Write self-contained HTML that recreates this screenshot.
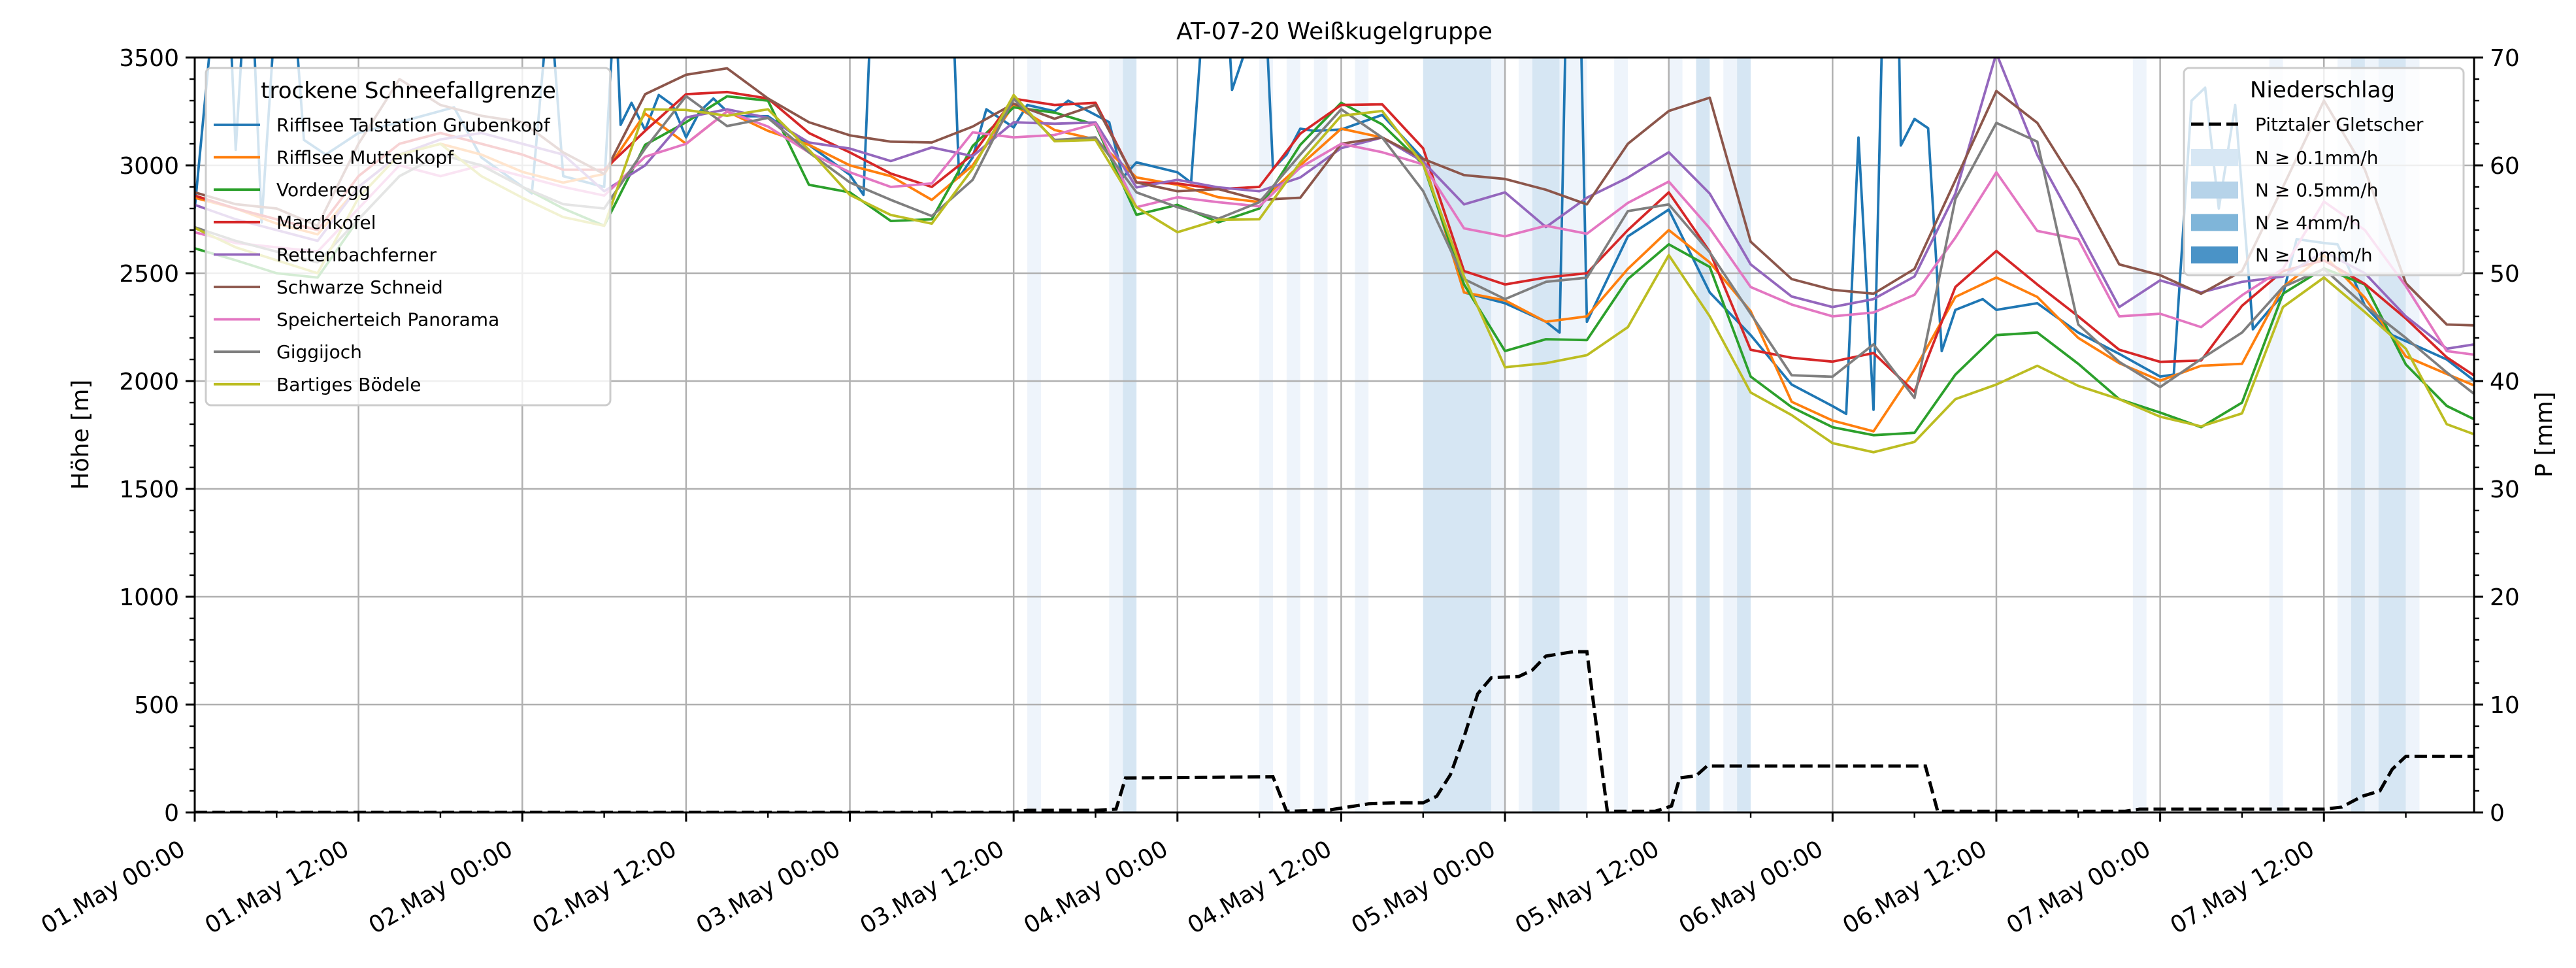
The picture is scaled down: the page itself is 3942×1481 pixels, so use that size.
<!DOCTYPE html>
<html><head><meta charset="utf-8"><style>
html,body{margin:0;padding:0;background:#fff;}
svg{display:block;font-family:"DejaVu Sans","Liberation Sans",sans-serif;}
</style></head><body>
<svg id="chart" xmlns="http://www.w3.org/2000/svg" width="3942" height="1481" viewBox="0 0 3942 1481">
<defs><clipPath id="plotclip"><rect x="298" y="88" width="3488" height="1155"/></clipPath></defs>
<rect x="0" y="0" width="3942" height="1481" fill="#fff"/>
<g id="bands" clip-path="url(#plotclip)"></g>
<g id="grid"></g>
<g id="series" clip-path="url(#plotclip)"></g>
<g id="axes"></g>
<g id="legends"></g>
<text x="2042" y="60" text-anchor="middle" font-size="36">AT-07-20 Weißkugelgruppe</text>
<text x="0" y="0" transform="translate(135,665) rotate(-90)" text-anchor="middle" font-size="36">Höhe [m]</text>
<text x="0" y="0" transform="translate(3905,665) rotate(-90)" text-anchor="middle" font-size="36">P [mm]</text>
</svg>
<script>
const hours = [0,3,6,9,12,15,18,21,24,27,30,33,36,39,42,45,48,51,54,57,60,63,66,69,72,75,78,81,84,87,90,93,96,99,102,105,108,111,114,117,120,123,126,129,132,135,138,141,144,147,150,153,156,159,162,165,168];
const seriesNames = ["Rifflsee Talstation Grubenkopf","Rifflsee Muttenkopf","Vorderegg","Marchkofel","Rettenbachferner","Schwarze Schneid","Speicherteich Panorama","Giggijoch","Bartiges Bödele"];
const blueHours = [0,1.5,2.5,3,3.7,4.2,4.9,6,7.2,8,
9.6,12,15,19,21,24.7,26,27,30,30.8,
31.2,32,33,34,35,36,37,38,39,40,
42,45,48,49,49.6,55.5,56,57,58,60,
61,63,64,66,67,68,69,72,73,74,
75.6,76,78.4,79,80,81,82,84,87,90,
93,96,99,100,100.5,101.5,102,105,108,111,
114,117,120,121,121.9,123,123.7,124.8,125,126,
127,128,129,131,132,135,138,141,144,145,
146.3,147.3,148.3,149.5,150.8,152,153,154,156,157,
158,159,161,163,165,167];
const blueValues = [2800,3800,3800,3072,3800,3800,2736,3800,3800,3118,
3050,3150,3200,3269,3037,2870,3800,2950,2900,3800,
3188,3290,3164,3326,3280,3130,3250,3310,3250,3228,
3228,3095,2956,2863,3800,3800,2944,3037,3260,3176,
3280,3251,3300,3234,3200,2944,3014,2968,2920,3800,
3800,3350,3800,2985,3050,3170,3160,3166,3234,3030,
2411,2361,2275,2225,3800,3800,2275,2671,2795,2411,
2213,1984,1884,1848,3129,1867,3800,3800,3092,3215,
3172,2139,2330,2380,2330,2361,2225,2126,2021,2030,
3300,3360,2800,3280,2240,2330,2400,2658,2640,2634,
2500,2349,2213,2157,2100,2002];
const orangeValues = [2850,2800,2730,2680,2900,3050,3100,3050,2970,2920,2960,3240,3100,3250,3160,3095,3000,2950,2840,3000,3280,3164,3120,2944,2910,2852,2830,3000,3170,3129,3030,2411,2374,2275,2300,2520,2700,2550,2324,1904,1817,1767,2052,2390,2480,2390,2200,2083,2002,2071,2080,2436,2584,2386,2114,2033,1953];
const greenValues = [2615,2560,2500,2480,2750,2950,3050,3000,2900,2800,2720,3095,3200,3320,3300,2910,2875,2742,2750,3090,3269,3245,3188,2771,2817,2736,2800,3095,3290,3190,3005,2448,2139,2194,2190,2473,2634,2529,2021,1879,1786,1749,1760,2030,2213,2225,2080,1916,1854,1786,1900,2405,2522,2448,2077,1885,1792];
const redValues = [2860,2800,2750,2700,2950,3100,3150,3100,3050,2980,2980,3160,3330,3340,3310,3150,3060,2962,2900,3050,3309,3280,3290,2921,2916,2890,2900,3147,3280,3283,3079,2510,2448,2480,2500,2700,2875,2600,2145,2108,2090,2130,1950,2436,2603,2448,2300,2145,2089,2095,2349,2510,2560,2450,2290,2110,1984];
const purpleValues = [2817,2750,2700,2650,2900,3050,3120,3150,3100,3050,2880,3000,3222,3260,3220,3106,3078,3020,3083,3043,3200,3193,3199,2898,2933,2898,2880,2944,3080,3129,3017,2819,2875,2714,2850,2943,3061,2869,2541,2392,2343,2380,2485,2869,3520,3048,2700,2343,2467,2411,2460,2485,2600,2500,2300,2150,2180];
const brownValues = [2875,2820,2800,2720,3100,3400,3280,3230,3200,3060,2960,3330,3420,3450,3310,3200,3139,3110,3106,3180,3286,3216,3280,2921,2880,2890,2840,2850,3100,3129,3030,2955,2937,2887,2819,3100,3252,3314,2646,2473,2423,2405,2520,2931,3345,3197,2894,2541,2491,2405,2510,2900,3300,2980,2454,2262,2256];
const pinkValues = [2690,2640,2620,2600,2800,3000,2950,3000,2950,2900,2860,3040,3100,3250,3180,3060,2968,2900,2916,3153,3130,3141,3193,2806,2852,2829,2810,2990,3100,3061,3005,2708,2671,2720,2683,2826,2925,2708,2436,2355,2300,2318,2400,2665,2968,2696,2658,2300,2312,2250,2398,2520,2832,2700,2440,2139,2114];
const greyValues = [2713,2650,2600,2550,2750,2950,3050,3000,2900,2820,2800,3078,3321,3182,3220,3060,2921,2840,2765,2933,3309,3118,3130,2875,2806,2753,2829,3050,3260,3129,2881,2473,2380,2460,2479,2788,2819,2597,2312,2027,2020,2170,1922,2844,3197,3110,2262,2089,1972,2102,2225,2436,2520,2349,2200,2040,1891];
const oliveValues = [2710,2620,2560,2500,2850,3050,3100,2950,2850,2760,2720,3260,3257,3230,3260,3072,2863,2770,2730,2985,3326,3112,3118,2806,2690,2748,2750,3014,3230,3252,3005,2485,2064,2083,2120,2250,2584,2300,1947,1842,1712,1670,1718,1916,1984,2071,1978,1916,1835,1790,1850,2343,2480,2320,2150,1800,1730];
const precipHours = [0,60,61,66,67.5,68.2,79,80,83,84,86,88,90,91,92,93,94,95,97,98,99,101,102,103.5,107,108.2,108.8,110,110.8,126.8,127.7,141.4,142.5,151,156,157.3,158.8,160.1,161,162,167];
const precipValues = [0,0,0.2,0.2,0.3,3.2,3.3,0.1,0.2,0.4,0.8,0.9,0.9,1.5,3.5,7,11,12.5,12.6,13.2,14.5,14.9,14.9,0.1,0.1,0.6,3.2,3.4,4.3,4.3,0.1,0.1,0.3,0.3,0.3,0.5,1.5,2.0,4,5.2,5.2];
const bandStart = [61,67,68,78,80,82,85,90,95,97,98,100,104,108,110,112,113,142,152,157,158,159,160,162];
const bandEnd   = [62,68,69,79,81,83,86,95,96,98,100,102,105,109,111,113,114,143,153,158,159,160,162,163];
const bandLevel = [1,1,2,1,1,1,1,2,1,1,2,1,1,1,2,1,2,1,1,1,2,1,2,1];
const xTickLabels = ["01.May 00:00","01.May 12:00","02.May 00:00","02.May 12:00","03.May 00:00","03.May 12:00","04.May 00:00","04.May 12:00","05.May 00:00","05.May 12:00","06.May 00:00","06.May 12:00","07.May 00:00","07.May 12:00"];
const yTicks = [0,500,1000,1500,2000,2500,3000,3500];
const y2Ticks = [0,10,20,30,40,50,60,70];

const NS = "http://www.w3.org/2000/svg";
const L = 298, R = 3786, T = 88, B = 1243, HMAX = 167, VMAX = 3500, PMAX = 70;
const X = h => L + h * (R - L) / HMAX;
const Y = v => B - v * (B - T) / VMAX;
const YP = p => B - p * (B - T) / PMAX;
function mk(tag, attrs, parent) {
  const e = document.createElementNS(NS, tag);
  for (const k in attrs) e.setAttribute(k, attrs[k]);
  parent.appendChild(e);
  return e;
}
const bandsG = document.getElementById('bands'), gridG = document.getElementById('grid'),
      seriesG = document.getElementById('series'), axesG = document.getElementById('axes'),
      legG = document.getElementById('legends');

// bands
for (let i = 0; i < bandStart.length; i++) {
  const r = mk('rect', {x: X(bandStart[i]), y: T, width: X(bandEnd[i]) - X(bandStart[i]), height: B - T, fill: bandLevel[i] === 2 ? '#d6e6f3' : '#eef4fb'}, bandsG);
  
  
}
// grid
for (let i = 0; i < xTickLabels.length; i++) {
  const g = mk('line', {x1: X(i * 12), x2: X(i * 12), y1: T, y2: B, stroke: '#b0b0b0', 'stroke-width': 2.5}, gridG);
  
  
}
for (const v of yTicks) {
  const g = mk('line', {x1: L, x2: R, y1: Y(v), y2: Y(v), stroke: '#b0b0b0', 'stroke-width': 2.5}, gridG);
  
  
}
// series
const colors = ['#1f77b4','#ff7f0e','#2ca02c','#d62728','#9467bd','#8c564b','#e377c2','#7f7f7f','#bcbd22'];
const allValues = [null, orangeValues, greenValues, redValues, purpleValues, brownValues, pinkValues, greyValues, oliveValues];
function linePath(hs, vs, yf) {
  const n = Math.min(hs.length, vs.length);
  let d = '';
  for (let i = 0; i < n; i++) d += (i ? 'L' : 'M') + X(hs[i]).toFixed(1) + ',' + yf(vs[i]).toFixed(1);
  return d;
}
for (let s = 0; s < 9; s++) {
  const d = s === 0 ? linePath(blueHours, blueValues, Y) : linePath(hours, allValues[s], Y);
  const p = mk('path', {d: d, fill: 'none', stroke: colors[s], 'stroke-width': 3.8, 'stroke-linejoin': 'round'}, seriesG);
  
  
}
const pp = mk('path', {d: linePath(precipHours, precipValues, YP), fill: 'none', stroke: '#000', 'stroke-width': 5, 'stroke-dasharray': '19,8'}, seriesG);



// axes spines
const sp = mk('rect', {x: L, y: T, width: R - L, height: B - T, fill: 'none', stroke: '#000', 'stroke-width': 3}, axesG);


// x ticks
for (let h = 0; h <= HMAX; h += 6) {
  const major = h % 12 === 0;
  const t = mk('line', {x1: X(h), x2: X(h), y1: B, y2: B + (major ? 14 : 8), stroke: '#000', 'stroke-width': major ? 3 : 2.4}, axesG);
  
  
}
for (let i = 0; i < xTickLabels.length; i++) {
  const x = X(i * 12) - 12, y = 1306;
  const t = mk('text', {x: 0, y: 0, transform: `translate(${x},${y}) rotate(-30)`, 'text-anchor': 'end', 'font-size': 36}, axesG);
  t.textContent = xTickLabels[i];
  
  
}
// left y ticks
for (let v = 0; v <= VMAX; v += 100) {
  const major = v % 500 === 0;
  const t = mk('line', {x1: L, x2: L - (major ? 14 : 8), y1: Y(v), y2: Y(v), stroke: '#000', 'stroke-width': major ? 3 : 2.4}, axesG);
  
  
}
for (const v of yTicks) {
  const t = mk('text', {x: 274, y: Y(v) + 13, 'text-anchor': 'end', 'font-size': 36}, axesG);
  t.textContent = String(v);
  
  
}
// right y ticks
for (let p = 0; p <= PMAX; p += 2) {
  const major = p % 10 === 0;
  const t = mk('line', {x1: R, x2: R + (major ? 14 : 8), y1: YP(p), y2: YP(p), stroke: '#000', 'stroke-width': major ? 3 : 2.4}, axesG);
  
  
}
for (const p of y2Ticks) {
  const t = mk('text', {x: 3810, y: YP(p) + 13, 'text-anchor': 'start', 'font-size': 36}, axesG);
  t.textContent = String(p);
  
  
}

// left legend
const lb = mk('rect', {x: 315, y: 104, width: 619, height: 516, rx: 8, fill: '#fff', 'fill-opacity': 0.8, stroke: '#cccccc', 'stroke-width': 3}, legG);


const lt = mk('text', {x: 625, y: 150, 'text-anchor': 'middle', 'font-size': 34}, legG);
lt.textContent = 'trockene Schneefallgrenze';


for (let s = 0; s < 9; s++) {
  const y = 191 + s * 49.6;
  const h = mk('line', {x1: 327, x2: 398, y1: y, y2: y, stroke: colors[s], 'stroke-width': 3.8}, legG);
  
  
  const t = mk('text', {x: 423, y: y + 10, 'font-size': 28}, legG);
  t.textContent = seriesNames[s];
  
  
}
// right legend
const rb = mk('rect', {x: 3342, y: 104, width: 428, height: 317, rx: 8, fill: '#fff', 'fill-opacity': 0.8, stroke: '#cccccc', 'stroke-width': 3}, legG);


const rt = mk('text', {x: 3554, y: 149, 'text-anchor': 'middle', 'font-size': 34}, legG);
rt.textContent = 'Niederschlag';


const pl = mk('line', {x1: 3353, x2: 3425, y1: 190, y2: 190, stroke: '#000', 'stroke-width': 5, 'stroke-dasharray': '19,8'}, legG);


const ptx = mk('text', {x: 3451, y: 200, 'font-size': 28}, legG);
ptx.textContent = 'Pitztaler Gletscher';


const patchColors = ['#d7e7f4','#b6d3e9','#7fb5d9','#4a93c7'];
const patchLabels = ['N ≥ 0.1mm/h','N ≥ 0.5mm/h','N ≥ 4mm/h','N ≥ 10mm/h'];
for (let i = 0; i < 4; i++) {
  const y = 241 + i * 49.7;
  const r = mk('rect', {x: 3353, y: y - 13, width: 72, height: 26, fill: patchColors[i]}, legG);
  
  
  const t = mk('text', {x: 3451, y: y + 10, 'font-size': 28}, legG);
  t.textContent = patchLabels[i];
  
  
}
</script>
</body></html>
